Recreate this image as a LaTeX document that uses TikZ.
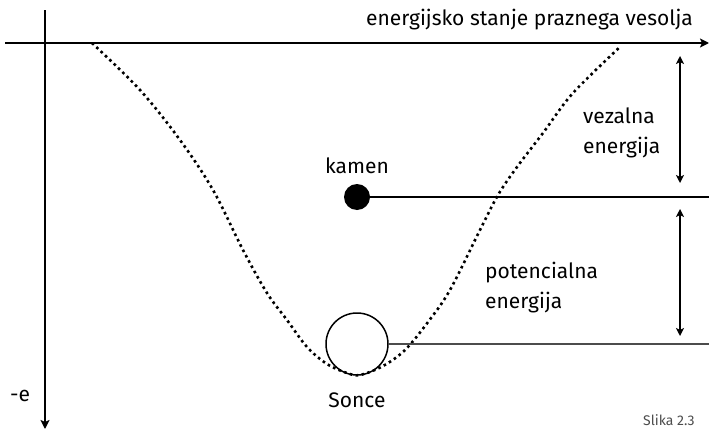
\documentclass[tikz,border=0pt]{standalone}
\usepackage{fontspec}
\setmainfont{Fira Sans}
\usetikzlibrary{positioning,arrows.meta}

\begin{document}
\begin{tikzpicture}[
  x=1pt, y=-1pt,
  every node/.style={font=\fontsize{21}{30}\selectfont},
  axis/.style={line width=2pt,-{Stealth[length=9pt,width=9pt,inset=2pt]}},
  level/.style={line width=1.1pt},
  span/.style={line width=1.6pt,{Stealth[length=8pt,width=8pt,inset=2pt]}-{Stealth[length=8pt,width=8pt,inset=2pt]}},
  well/.style={line width=2.6pt,dash pattern=on 2.6pt off 3.4pt},
  sun/.style={circle,draw,line width=1.5pt,minimum size=62pt,inner sep=0pt},
  stone/.style={circle,fill,minimum size=26pt,inner sep=0pt},
  label/.style={align=left,anchor=west,inner sep=0pt}
]
\useasboundingbox (0,0) rectangle (709,431);

% Axes
\coordinate (xs) at (5,43);
\coordinate (xe) at (709,43);
\coordinate (ys) at (45,10);
\coordinate (ye) at (45,429);
\draw[axis] (xs) -- (xe);
\draw[axis] (ys) -- (ye);
\node[anchor=base east,inner sep=0pt] (title) at (693,25) {energijsko stanje praznega vesolja};
\node (mine) at (20,396) {-e};

% Potential well
\draw[well] plot[smooth,tension=0.55] coordinates {
  (92,43) (140,90) (180,140) (213,190) (243,250) (267,293) (287,320)
  (307,347) (327,364) (347,373) (360,375) (383,366) (405,350) (428,322)
  (450,290) (480,230) (498,195) (517,167) (543,133) (573,93) (621,46)};

% Bodies
\node[sun] (sonce) at (357,344) {};
\node[below=25pt of sonce.south,anchor=center] (sonceL) {Sonce};
\node[stone] (kamen) at (357,197) {};
\node[above=18pt of kamen.north,anchor=center] (kamenL) {kamen};

% Levels
\coordinate (kr) at (709,197);
\coordinate (sr) at (709,344);
\draw[level] (kamen) -- (kr);
\draw[level,black!70] (sonce) -- (sr);

% Energies
\coordinate (v1) at (680,56);
\coordinate (v2) at (680,183);
\coordinate (p1) at (680,209);
\coordinate (p2) at (680,336);
\draw[span] (v1) -- (v2);
\draw[span] (p1) -- (p2);
\node[label] (vez) at (583,133) {vezalna\\energija};
\node[label] (pot) at (485,288) {potencialna\\energija};

% Caption
\node[anchor=base west,inner sep=0pt,font=\fontsize{14}{16}\selectfont,black!70] (slika) at (643,425) {Slika 2.3};
\end{tikzpicture}
\end{document}
